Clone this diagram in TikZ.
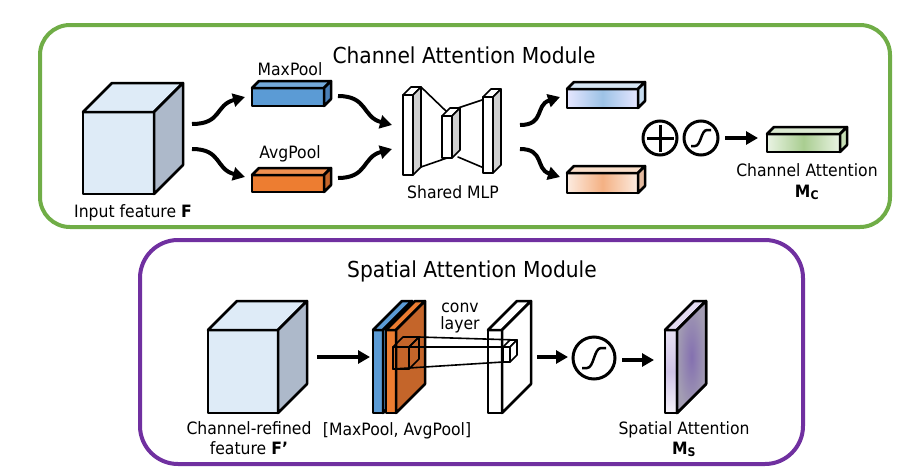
\documentclass[tikz,border=0pt]{standalone}
\usepackage{fontspec}
\setmainfont[FakeStretch=0.92]{DejaVu Sans}
\usepackage{tkz-euclide}
\usepackage{tikz}
\usetikzlibrary{arrows.meta}

\definecolor{camgreen}{HTML}{70AD47}
\definecolor{sampurple}{HTML}{7030A0}
\definecolor{cubefront}{HTML}{DEEBF7}
\definecolor{cubeside}{HTML}{ADB9CA}
\definecolor{poolblue}{HTML}{5B9BD5}
\definecolor{poolblueside}{HTML}{4A80B8}
\definecolor{poolorange}{HTML}{ED7D31}
\definecolor{poolorangeside}{HTML}{C4652A}
\definecolor{mlpgray}{HTML}{D0D0D0}
\definecolor{msfront}{HTML}{CFC2E6}
\definecolor{mscore}{HTML}{8470B0}
\definecolor{msedge}{HTML}{A39DB3}

% x, y (top left of front face), width, height, depth, front, top, side
\newcommand{\drawslab}[8]{%
  \path[face,#6] (#1,#2) rectangle ++(#3,#4);
  \path[face,#7] (#1,#2) -- ++(#5,-#5) -- ++(#3,0) -- ++(-#5,#5) -- cycle;
  \path[face,#8] ({#1+#3},#2) -- ++(#5,-#5) -- ++(0,#4) -- ++(-#5,#5) -- cycle;
}

\begin{document}
\begin{tikzpicture}[x=1pt, y=-1pt,
    face/.style={draw, line width=2.5pt, line join=round},
    thin face/.style={draw, line width=1.6pt, line join=round},
    arr/.style={line width=4pt, -{Triangle[length=12pt,width=13pt]}},
    lbl/.style={font=\fontsize{17}{20}\selectfont, anchor=base, inner sep=0pt},
    ttl/.style={font=\fontsize{22}{26}\selectfont, anchor=base, inner sep=0pt},
    opcircle/.style={circle, draw, line width=3pt, inner sep=0pt}]
    \useasboundingbox (0,0) rectangle (921,474);

    % module frames
    \draw[camgreen, line width=4pt, rounded corners=30pt] (40,25) rectangle (890,227);
    \draw[sampurple, line width=4pt, rounded corners=38pt] (140,240) rectangle (803,464);
    \node[ttl] (camtitle) at (464,63) {Channel Attention Module};
    \node[ttl] (samtitle) at (472,277) {Spatial Attention Module};

    % channel attention
    \tkzDefPoints{192/124/a1,245/97/a2,192/149/a3,245/177/a4,
      338/96/a5,392/125/a6,338/178/a7,392/149/a8,
      520/125/b1,560/97/b2,520/149/b3,560/177/b4,725/138/c1,758/138/c2}
    \drawslab{83}{112}{71}{82}{29}{fill=cubefront}{fill=cubefront}{fill=cubeside}
    \node[lbl] (inlbl) at (133,217) {Input feature \textbf{F}};

    \drawslab{252}{88}{72}{18}{7}{fill=poolblue}{fill=poolblue!85!white}{fill=poolblueside}
    \drawslab{252}{175}{72}{17}{7}{fill=poolorange}{fill=poolorange!85!white}{fill=poolorangeside}
    \node[lbl] (maxlbl) at (290,75) {MaxPool};
    \node[lbl] (avglbl) at (290,158) {AvgPool};

    \draw[arr] (a1) .. controls +(30,0) and +(-30,8) .. (a2);
    \draw[arr] (a3) .. controls +(30,0) and +(-30,-8) .. (a4);
    \draw[arr] (a5) .. controls +(30,0) and +(-30,-8) .. (a6);
    \draw[arr] (a7) .. controls +(30,0) and +(-30,8) .. (a8);

    \tkzDefPoints{421/87/m1,447/112/m2,421/167/m3,447/158/m4,
      458/108/m5,485/99/m6,458/157/m7,484/168/m8}
    \tkzDrawSegments[line width=1.6pt](m1,m2 m3,m4 m5,m6 m7,m8)
    \drawslab{403}{95}{10}{80}{8}{thin face,fill=white}{thin face,fill=white}{thin face,fill=mlpgray}
    \drawslab{442}{116}{10}{42}{8}{thin face,fill=white}{thin face,fill=white}{thin face,fill=mlpgray}
    \drawslab{483}{97}{10}{76}{8}{thin face,fill=white}{thin face,fill=white}{thin face,fill=mlpgray}
    \node[lbl] (mlplbl) at (453,198) {Shared MLP};

    \draw[arr] (b1) .. controls +(25,0) and +(-25,8) .. (b2);
    \draw[arr] (b3) .. controls +(25,0) and +(-25,-8) .. (b4);
    \drawslab{567}{89}{71}{19}{7}{left color=blue!10!white,right color=blue!10!white,middle color=poolblue!60!white}{fill=poolblue!25!white}{fill=poolblue!35!white}
    \drawslab{567}{173}{71}{20}{7}{left color=poolorange!15!white,right color=poolorange!15!white,middle color=poolorange!60!white}{fill=poolorange!25!white}{fill=poolorangeside!45!white}

    \node[opcircle, minimum size=34pt] (plus) at (660,138) {};
    \draw[line width=3pt, shorten >=5pt, shorten <=5pt] (plus.north) -- (plus.south);
    \draw[line width=3pt, shorten >=5pt, shorten <=5pt] (plus.west) -- (plus.east);
    \node[opcircle, minimum size=34pt] (sigc) at (701,138) {};
    \draw[line width=2.5pt] ([shift={(-10,8)}]sigc.center) -- ++(4,0)
      .. controls +(6,0) and +(-6,0) .. ++(12,-16) -- ++(4,0);
    \draw[arr] (c1) -- (c2);
    \drawslab{767}{134}{73}{18}{7}{left color=camgreen!15!white,right color=camgreen!15!white,middle color=camgreen!60!white}{fill=camgreen!25!white}{fill=camgreen!40!white}
    \node[lbl] (calbl) at (807,176) {Channel Attention};
    \node[lbl] (mclbl) at (807,197) {\textbf{M\textsubscript{C}}};

    % spatial attention
    \tkzDefPoints{317/357/d1,370/357/d2,419/337/e1,517/340/e2,409/347/e3,510/347/e4,
      393/369/e5,503/362/e6,537/357/f1,568/357/f2,622/360/g1,654/360/g2}
    \drawslab{208}{330}{70}{83}{29}{fill=cubefront}{fill=cubefront}{fill=cubeside}
    \node[lbl] (cflbl) at (249,434) {Channel-refined};
    \node[lbl] (fplbl) at (249,454) {feature \textbf{F’}};
    \draw[arr] (d1) -- (d2);

    \drawslab{373}{330}{10}{83}{29}{fill=poolblue}{fill=poolblue}{fill=poolblue}
    \drawslab{386}{330}{10}{83}{29}{fill=poolorange}{fill=poolorange}{fill=poolorangeside}
    \drawslab{393}{347}{16}{22}{10}{thin face}{thin face}{thin face}
    \node[lbl] (poollbl) at (397,435) {[MaxPool, AvgPool]};

    \drawslab{488}{330}{14}{83}{29}{fill=white}{fill=white}{fill=white}
    \tkzDrawSegments[line width=1.6pt](e1,e2 e3,e4 e5,e6)
    \drawslab{503}{347}{7}{15}{7}{thin face,fill=white}{thin face,fill=white}{thin face,fill=white}
    \node[lbl] (convlbl) at (460,312) {conv};
    \node[lbl] (layerlbl) at (460,329) {layer};

    \draw[arr] (f1) -- (f2);
    \node[opcircle, minimum size=42pt] (sigs) at (594,358) {};
    \draw[line width=2.5pt] ([shift={(-12,10)}]sigs.center) -- ++(5,0)
      .. controls +(7,0) and +(-7,0) .. ++(14,-20) -- ++(5,0);
    \draw[arr] (g1) -- (g2);
    \drawslab{665}{330}{12}{83}{29}{top color=msfront!50!white,bottom color=msfront!20!white,middle color=msfront}{fill=msfront!60!white}{fill=msedge}
    \fill[inner color=mscore, outer color=msedge] (677,330) -- ++(29,-29) -- ++(0,83) -- ++(-29,29) -- cycle;
    \draw[face] (677,330) -- ++(29,-29) -- ++(0,83) -- ++(-29,29) -- cycle;
    \node[lbl] (salbl) at (684,434) {Spatial Attention};
    \node[lbl] (mslbl) at (684,454) {\textbf{M\textsubscript{S}}};
\end{tikzpicture}
\end{document}
